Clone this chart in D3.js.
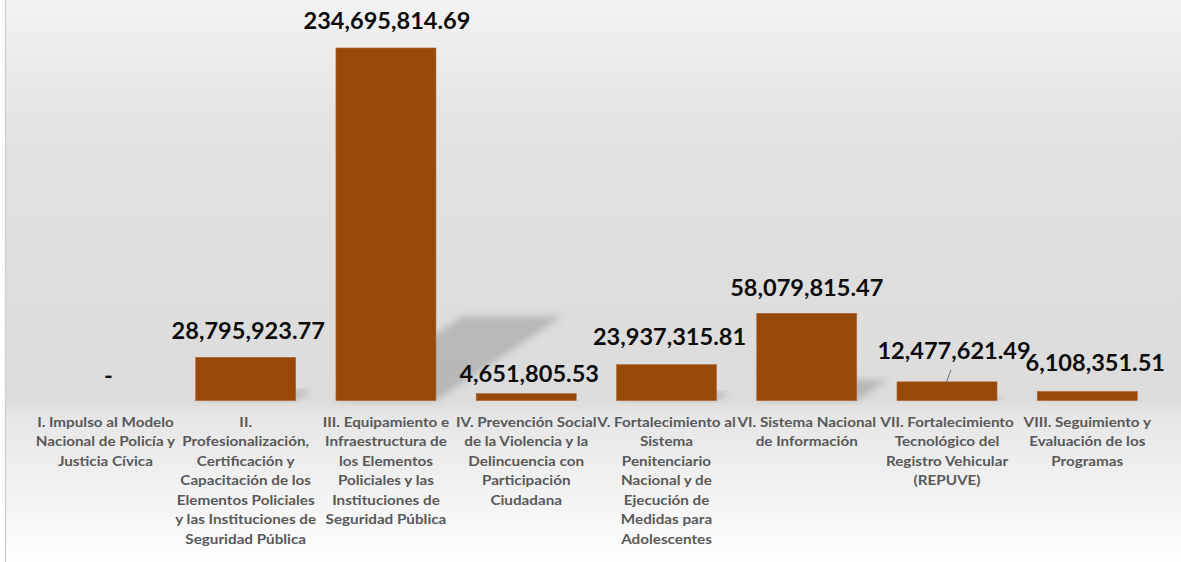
<!DOCTYPE html>
<html>
<head>
<meta charset="utf-8">
<script src="https://cdn.jsdelivr.net/npm/d3@7"></script>
<style>
  html, body { margin: 0; padding: 0; background: #ffffff; }
  svg { display: block; }
</style>
</head>
<body>
<svg id="chart" width="1181" height="562"></svg>
<script>
// ---- data ----
const categories = [
  "I. Impulso al Modelo\nNacional de Policía y\nJusticia Cívica",
  "II.\nProfesionalización,\nCertificación y\nCapacitación de los\nElementos Policiales\ny las Instituciones de\nSeguridad Pública",
  "III. Equipamiento e\nInfraestructura de\nlos Elementos\nPoliciales y las\nInstituciones de\nSeguridad Pública",
  "IV. Prevención Social\nde la Violencia y la\nDelincuencia con\nParticipación\nCiudadana",
  "V. Fortalecimiento al\nSistema\nPenitenciario\nNacional y de\nEjecución de\nMedidas para\nAdolescentes",
  "VI. Sistema Nacional\nde Información",
  "VII. Fortalecimiento\nTecnológico del\nRegistro Vehicular\n(REPUVE)",
  "VIII. Seguimiento y\nEvaluación de los\nProgramas"
];
const values = [0, 28795923.77, 234695814.69, 4651805.53, 23937315.81, 58079815.47, 12477621.49, 6108351.51];
const yDomainMax = 250000000;

// manual data-label nudges (dx, dy) relative to default outside-end position
const labelNudgeX = [3, 2.5, 1, 3, 3, 0, 7, 8];
const labelNudgeY = [1, 0, -1, 6, -2, 1, -5, -2];
const leaderLineIndex = 6;

// ---- layout ----
const W = 1181, H = 562;
const svg = d3.select("#chart");
const base = 400.6;
const x = d3.scaleBand().domain(d3.range(categories.length))
  .range([35.3, 1157.4]).paddingInner(0.287).paddingOuter(0.1435);
const y = d3.scaleLinear().domain([0, yDomainMax]).range([base, 25]);

const defs = svg.append("defs");
const grad = defs.append("linearGradient").attr("id", "bg")
  .attr("x1", 0).attr("y1", 0).attr("x2", 0).attr("y2", 1);
[[0, "#f3f3f3"], [0.22, "#e3e3e3"], [0.5, "#dedede"], [0.71, "#dcdcdc"], [0.74, "#e6e6e6"], [0.88, "#f3f3f3"], [1, "#ffffff"]]
  .forEach(([o, c]) => grad.append("stop").attr("offset", o).attr("stop-color", c));
const blur = defs.append("filter").attr("id", "blur")
  .attr("x", "-20%").attr("y", "-20%").attr("width", "140%").attr("height", "140%");
blur.append("feGaussianBlur").attr("stdDeviation", 3.5);

// chart area
svg.append("rect").attr("x", 5.5).attr("y", -2).attr("width", W + 5).attr("height", H + 4)
  .attr("fill", "url(#bg)").attr("stroke", "#cfcfcf").attr("stroke-width", 1.3);

// perspective shadows
svg.append("g").selectAll("polygon").data(values).join("polygon")
  .attr("points", (d, i) => {
    const x0 = x(i), x1 = x(i) + x.bandwidth();
    const h = base - y(d);
    const dx = 0.36 * h, dy = 0.24 * h;
    return [[x0, base], [x1, base], [x1 + dx, base - dy], [x0 + dx, base - dy]].map(p => p.join(",")).join(" ");
  })
  .attr("fill", "#000").attr("fill-opacity", 0.17).attr("filter", "url(#blur)");

// bars
svg.append("g").selectAll("rect").data(values).join("rect")
  .attr("x", (d, i) => x(i)).attr("width", x.bandwidth())
  .attr("y", d => y(d)).attr("height", d => base - y(d))
  .attr("fill", "#984807").attr("stroke", "#b0673a").attr("stroke-width", 0.6)
  .attr("display", d => d > 0 ? null : "none");

// value labels
const fmt = d3.format(",.2f");
const valFont = "Lato, 'Open Sans', sans-serif";
const vg = svg.append("g");
const vLabels = vg.selectAll("text").data(values).join("text")
  .attr("text-anchor", "middle")
  .attr("font-family", valFont).attr("font-weight", 700).attr("font-size", 23)
  .attr("fill", "#0d0d0d")
  .text(d => d === 0 ? "-" : fmt(d));
// horizontal fit to reference glyph widths
const refNode = vLabels.nodes()[2];
const kVal = 167 / refNode.getComputedTextLength();
vLabels.each(function (d, i) {
  const cx = x(i) + x.bandwidth() / 2 + labelNudgeX[i];
  const by = y(d) - 18 + labelNudgeY[i];
  d3.select(this).attr("x", 0).attr("y", 0)
    .attr("transform", `translate(${cx},${by}) scale(${kVal},1)`);
});

// leader line
{
  const i = leaderLineIndex, d = values[i];
  const cx = x(i) + x.bandwidth() / 2;
  const ly = y(d) - 18 + labelNudgeY[i];
  svg.append("line")
    .attr("x1", cx + labelNudgeX[i] - 3).attr("y1", ly + 11)
    .attr("x2", cx - 0.5).attr("y2", y(d))
    .attr("stroke", "#6f6f6f").attr("stroke-width", 1);
}

// category axis labels
const catFont = "Lato, 'Open Sans', sans-serif";
const cg = svg.append("g");
const catTexts = cg.selectAll("text").data(categories).join("text")
  .attr("text-anchor", "middle")
  .attr("font-family", catFont).attr("font-weight", 700).attr("font-size", 14)
  .attr("fill", "#595959");
catTexts.each(function (d) {
  const t = d3.select(this);
  d.split("\n").forEach((line, j) => {
    t.append("tspan").attr("x", 0).attr("y", j * 19.5).text(line);
  });
});
const probe = catTexts.nodes()[0].childNodes[0];
const kCat = 136.7 / probe.getComputedTextLength();
catTexts.attr("transform", (d, i) => `translate(${x(i) + x.bandwidth() / 2},426.8) scale(${kCat},1)`);
</script>
</body>
</html>
